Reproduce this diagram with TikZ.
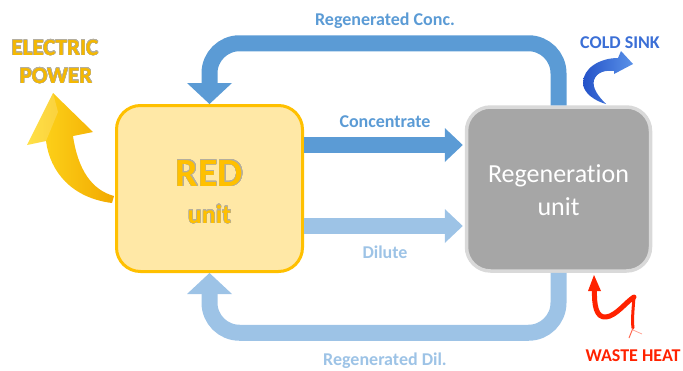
\documentclass[tikz,border=0pt]{standalone}
\usepackage{fontspec}
\setmainfont{Carlito}[Ligatures=NoCommon]
\usepackage{contour}
\contourlength{0.35pt}
\contournumber{24}
\usetikzlibrary{arrows.meta,calc}

\definecolor{goldline}{HTML}{FFC000}
\definecolor{goldfill}{HTML}{FFE8A6}
\definecolor{goldtext}{HTML}{F5B800}
\definecolor{outlinegray}{HTML}{B4AE9E}
\definecolor{greyfill}{HTML}{A6A6A6}
\definecolor{greyline}{HTML}{D9D9D9}
\definecolor{flowdark}{HTML}{5B9BD5}
\definecolor{flowlight}{HTML}{9DC3E6}
\definecolor{coldblue}{HTML}{3B6FD6}
\definecolor{coldA}{HTML}{2452C8}
\definecolor{coldB}{HTML}{5A92E8}
\definecolor{heatred}{HTML}{FF2200}
\definecolor{elecA}{HTML}{FFDA1F}
\definecolor{elecB}{HTML}{F2A900}

\tikzset{
  unitbox/.style={rectangle, rounded corners=24pt, line width=3pt,
    minimum width=186pt, minimum height=166pt, inner sep=0pt},
  lbl/.style={font=\fontsize{18}{18}\selectfont\bfseries, anchor=base, inner sep=0pt},
  flowline/.style={line width=16pt},
  headH/.style={-{Triangle[width=34pt,length=18pt,line width=0pt]}},
  headV/.style={-{Triangle[width=45pt,length=21pt,line width=0pt]}},
}

\begin{document}
\begin{tikzpicture}[x=1pt,y=-1pt]
\useasboundingbox (0,0) rectangle (683,370);

% the two units
\node[unitbox, draw=goldline, fill=goldfill] (red) at (209.5,188.5) {};
\node[unitbox, draw=greyline, fill=greyfill, line width=3.5pt,
      minimum width=184pt, minimum height=164pt] (regen) at (558.5,189) {};

\node[anchor=base, inner sep=0pt, text=goldline,
      font=\fontsize{40}{40}\selectfont\bfseries] (redname) at (209.5,186) {\contour{outlinegray}{RED}};
\node[anchor=base, inner sep=0pt, text=goldline,
      font=\fontsize{26}{26}\selectfont\bfseries] (redunit) at (209.5,223) {\contour{outlinegray}{unit}};
\node[anchor=base, inner sep=0pt, text=white,
      font=\fontsize{26}{26}\selectfont] (regenname) at (558.5,182) {Regeneration};
\node[anchor=base, inner sep=0pt, text=white,
      font=\fontsize{26}{26}\selectfont] (regenunit) at (558.5,215) {unit};

% streams between the units
\draw[flowline, flowdark, headH, shorten >=2pt] (red.east |- 0,145) -- (regen.west |- 0,145);
\draw[flowline, flowlight, headH, shorten >=2pt] (red.east |- 0,226) -- (regen.west |- 0,226);
\draw[flowline, flowdark, headV, rounded corners=30pt]
  (regen.north) -- ++(0,-62) -| (red.north);
\draw[flowline, flowlight, headV, rounded corners=30pt]
  (regen.south) -- ++(0,60) -| (red.south);

\node[lbl, text=flowdark] (lconc) at (385,127) {Concentrate};
\node[lbl, text=flowlight] (ldil) at (385,258) {Dilute};
\node[lbl, text=flowdark] (lrconc) at (385,25) {Regenerated Conc.};
\node[lbl, text=flowlight] (lrdil) at (385,365) {Regenerated Dil.};

% electric power output
\shade[left color=elecA, right color=elecB]
  (53,93) -- (27,145) -- (46,141)
  .. controls (50,172) and (72,198) .. (112,203) -- (114,196)
  .. controls (92,190) and (78,170) .. (73,136) -- (93,132) -- cycle;
\fill[white, opacity=0.18] (53,93) -- (27,145) -- (46,141) -- (58,112) -- cycle;
\node[anchor=base, inner sep=0pt, text=goldtext,
      font=\fontsize{23}{23}\selectfont\bfseries] (lelec1) at (55,55) {\contour{outlinegray}{ELECTRIC}};
\node[anchor=base, inner sep=0pt, text=goldtext,
      font=\fontsize{23}{23}\selectfont\bfseries] (lelec2) at (56,83) {\contour{outlinegray}{POWER}};

% cold sink
\shade[left color=coldA, right color=coldB]
  (606,104) .. controls (595,101) and (583,93) .. (583,83)
  .. controls (583,68) and (600,58) .. (618,58)
  -- (621,51) -- (633,64) -- (614,74) -- (614,71)
  .. controls (605,70) and (597,72) .. (594,80)
  .. controls (592,88) and (598,96) .. (606,104) -- cycle;
\node[lbl, text=coldblue] (lcold) at (620,48) {COLD SINK};

% waste heat
\draw[heatred, line width=5pt, line cap=round, line join=round]
  (594.5,289) .. controls (594,305) and (596,318) .. (606,317)
  .. controls (616,316) and (626,302) .. (634,297);
\draw[heatred, line width=3pt, line cap=round]
  (634,297) .. controls (633,310) and (632,320) .. (633,328);
\draw[heatred!70, line width=1pt] (633,328) -- (629,338);
\draw[heatred!40, line width=0.8pt] (633,330) -- (642,334);
\fill[heatred] (594,275) -- (588,291) -- (601,291) -- cycle;
\node[lbl, text=heatred] (lheat) at (633,361) {WASTE HEAT};
\end{tikzpicture}
\end{document}
